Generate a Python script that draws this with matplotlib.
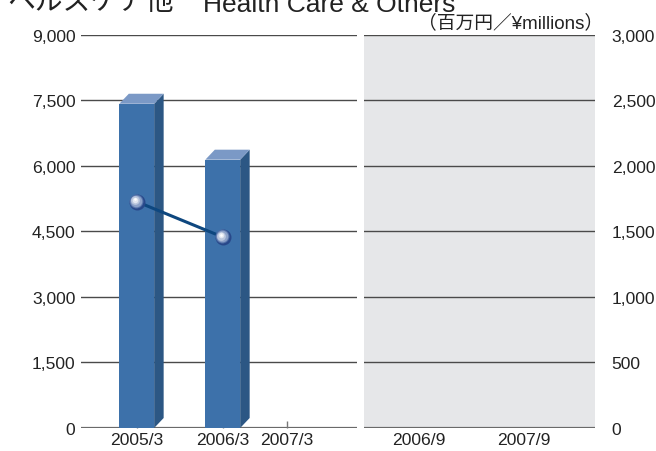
import numpy as np
import matplotlib
matplotlib.use("Agg")
import matplotlib.pyplot as plt
from matplotlib.patches import Polygon, Rectangle
from matplotlib.transforms import offset_copy

plt.rcParams['font.family'] = ['Liberation Sans', 'Noto Sans CJK JP', 'DejaVu Sans']

# Annual figures (left panel)
annual_labels = ["2005/3", "2006/3", "2007/3"]
net_sales = [7420, 6140]
operating_line = [5180, 4370]

# Interim periods (right panel)
interim_labels = ["2006/9", "2007/9"]

left_ticks = [0, 1500, 3000, 4500, 6000, 7500, 9000]
right_ticks = [0, 500, 1000, 1500, 2000, 2500, 3000]

unit_text = "（百万円／¥millions）"
title_jp = "ヘルスケア他"
title_en = "Health Care & Others"

W, H = 656, 452
fig = plt.figure(figsize=(W / 100, H / 100), dpi=100)

ax_l = fig.add_axes([81 / W, 1 - 429 / H, 276 / W, 393.3 / H])
ax_r = fig.add_axes([364 / W, 1 - 429 / H, 231 / W, 393.3 / H])

grid_c = "#4a4a4a"
base_c = "#6a6a6a"
front_c = "#3d71aa"
side_c = "#2c5784"
top_c = "#7b99c6"
line_c = "#0e477f"
text_c = "#222222"

# category layout
xpos = np.array([0.0, 1.0, 1.75])
ax_l.set_xlim(-0.648, 2.561)
ax_l.set_ylim(0, 9000)

for y in left_ticks:
    ax_l.axhline(y, color=grid_c if y else base_c, lw=1.0 if y else 1.6, zorder=1)

# 3-D style bars
bw = 0.405
dx = 9.5 / 86.0
dy = 10.0 / 393.3 * 9000
for x, v in zip(xpos[:len(net_sales)], net_sales):
    x0, x1 = x - bw / 2, x + bw / 2
    ax_l.add_patch(Polygon([(x1, 0), (x1 + dx, dy), (x1 + dx, v + dy), (x1, v)],
                           closed=True, fc=side_c, ec="none", zorder=3))
    ax_l.add_patch(Polygon([(x0, v), (x0 + dx, v + dy), (x1 + dx, v + dy), (x1, v)],
                           closed=True, fc=top_c, ec="none", zorder=3))
    ax_l.add_patch(Rectangle((x0, 0), bw, v, fc=front_c, ec="none", zorder=3))

# line with shaded sphere markers
lx = xpos[:len(operating_line)]
ax_l.plot(lx, operating_line, color=line_c, lw=2.2, zorder=4)
shades = [(11.5, "#28488a", 0, 0), (10.0, "#5673aa", -0.4, 0.4), (8.4, "#8ca1c8", -0.8, 0.8),
          (6.3, "#bac6dd", -1.1, 1.1), (4.0, "#e2e7f1", -1.4, 1.4), (1.9, "#ffffff", -1.6, 1.6)]
for ms, c, ox, oy in shades:
    tr = offset_copy(ax_l.transData, fig=fig, x=ox, y=oy, units="points")
    ax_l.plot(lx, operating_line, ls="none", marker="o", ms=ms, mfc=c, mec="none",
              transform=tr, zorder=5)

ax_l.set_yticks(left_ticks)
ax_l.set_yticklabels([f"{t:,}" for t in left_ticks])
ax_l.set_xticks(xpos)
ax_l.set_xticklabels(annual_labels)
ax_l.tick_params(axis="y", length=0, pad=4, labelsize=12.6, colors=text_c)
ax_l.tick_params(axis="x", direction="in", length=5, width=1, color="#777777",
                 pad=3, labelsize=12.6, labelcolor=text_c)
for s in ax_l.spines.values():
    s.set_visible(False)

# right panel
ax_r.set_facecolor("#e6e7e9")
ax_r.set_xlim(-0.524, 1.676)
ax_r.set_ylim(0, 3000)
for y in right_ticks:
    ax_r.axhline(y, color=grid_c if y else base_c, lw=1.0 if y else 1.6, zorder=1)
ax_r.set_xticks(range(len(interim_labels)))
ax_r.set_xticklabels(interim_labels)
ax_r.yaxis.tick_right()
ax_r.set_yticks(right_ticks)
ax_r.set_yticklabels([f"{t:,}" for t in right_ticks])
ax_r.tick_params(axis="y", length=0, pad=12, labelsize=12.6, colors=text_c)
ax_r.tick_params(axis="x", length=0, pad=3, labelsize=12.6, labelcolor=text_c)
for s in ax_r.spines.values():
    s.set_visible(False)

# unit and heading (heading runs off the top edge of the figure)
fig.text(603 / W, 1 - 28 / H, unit_text, ha="right", va="baseline", fontsize=13.5,
         color=text_c, family=["Liberation Sans", "Noto Sans CJK JP"])
fig.text(174 / W, 1 - 9.5 / H, title_jp, ha="right", va="baseline", fontsize=20,
         color=text_c, family=["Noto Sans CJK JP", "DejaVu Sans"])
fig.text(203 / W, 1 - 12 / H, title_en, ha="left", va="baseline", fontsize=19,
         color=text_c)

fig.savefig("out.png", dpi=100)
